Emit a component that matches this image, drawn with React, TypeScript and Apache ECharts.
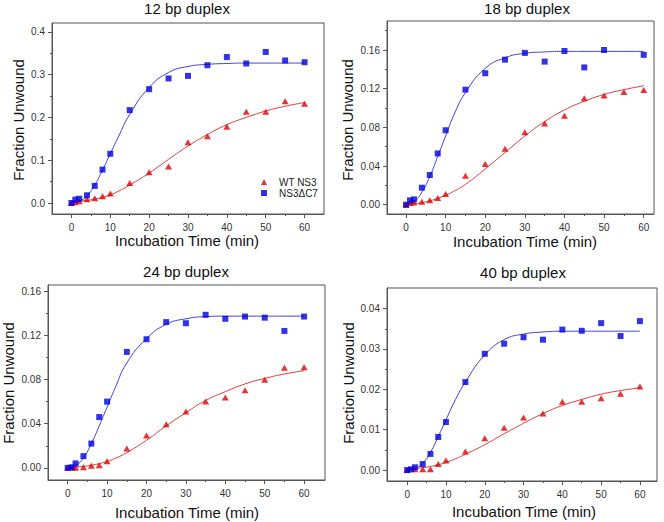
import React, { useEffect, useRef } from "react";
import * as echarts from "echarts";

// ---- data ----
const times = [0, 1, 2, 4, 6, 8, 10, 15, 20, 25, 30, 35, 40, 45, 50, 55, 60];
const fitTimes = [0, 2, 4, 6, 8, 10, 12, 15, 20, 25, 30, 35, 40, 45, 50, 55, 60];

const panelTitles = ["12 bp duplex", "18 bp duplex", "24 bp duplex", "40 bp duplex"];
const seriesNames = ["WT NS3", "NS3\u0394C7"];

const wt12 = [0, 0.002, 0.004, 0.009, 0.011, 0.016, 0.022, 0.047, 0.072, 0.085, 0.142, 0.156, 0.178, 0.213, 0.213, 0.238, 0.232];
const dc12 = [0, 0.008, 0.010, 0.018, 0.040, 0.078, 0.115, 0.217, 0.266, 0.291, 0.297, 0.322, 0.341, 0.326, 0.353, 0.333, 0.329];
const wt18 = [0, 0.0017, 0.0024, 0.003, 0.0045, 0.007, 0.011, 0.030, 0.042, 0.058, 0.075, 0.084, 0.092, 0.110, 0.113, 0.1166, 0.1186];
const dc18 = [0, 0.0045, 0.0055, 0.0176, 0.0307, 0.053, 0.077, 0.119, 0.136, 0.150, 0.157, 0.148, 0.159, 0.142, 0.160, null, 0.155];
const wt24 = [0, 0.0003, 0, 0.0006, 0.0018, 0.0024, 0.006, 0.0175, 0.0293, 0.0395, 0.051, 0.060, 0.0637, 0.0703, 0.0797, 0.0906, 0.0912];
const dc24 = [0, 0.0005, 0.004, 0.0106, 0.022, 0.046, 0.060, 0.105, 0.1165, 0.132, 0.131, 0.1386, 0.135, 0.137, 0.136, 0.124, 0.137];
const wt40 = [0, null, 0.0002, 0.0002, 0.0002, 0.0015, 0.0024, 0.0046, 0.0079, 0.0105, 0.013, 0.014, 0.0169, 0.0169, 0.0178, 0.0189, 0.0207];
const dc40 = [0, 0.0002, 0.0007, 0.0015, 0.004, 0.0082, 0.0119, 0.0218, 0.0288, 0.0313, 0.0329, 0.0323, 0.0348, 0.0345, 0.0364, 0.0332, 0.0369];

const wtFit12 = [0.002, 0.004, 0.006, 0.009, 0.013, 0.019, 0.027, 0.042, 0.07, 0.102, 0.133, 0.16, 0.183, 0.2, 0.215, 0.226, 0.235];
const dcFit12 = [0, 0.004, 0.017, 0.042, 0.077, 0.115, 0.153, 0.207, 0.27, 0.305, 0.319, 0.324, 0.326, 0.327, 0.327, 0.327, 0.327];
const wtFit18 = [0.0005, 0.001, 0.002, 0.004, 0.0065, 0.0098, 0.0138, 0.021, 0.037, 0.054, 0.071, 0.086, 0.098, 0.107, 0.114, 0.119, 0.123];
const dcFit18 = [0, 0.003, 0.013, 0.029, 0.050, 0.071, 0.092, 0.116, 0.141, 0.152, 0.1566, 0.158, 0.1586, 0.1586, 0.1586, 0.1586, 0.1586];
const wtFit24 = [0.0005, 0.0008, 0.0014, 0.0024, 0.0038, 0.0058, 0.0085, 0.0138, 0.025, 0.038, 0.050, 0.061, 0.069, 0.076, 0.081, 0.085, 0.088];
const dcFit24 = [0, 0.002, 0.009, 0.022, 0.038, 0.055, 0.072, 0.095, 0.117, 0.130, 0.135, 0.137, 0.1374, 0.1374, 0.1374, 0.1374, 0.1374];
const wtFit40 = [0.0003, 0.0004, 0.0006, 0.0009, 0.0013, 0.0019, 0.0026, 0.0039, 0.0063, 0.009, 0.0116, 0.014, 0.016, 0.0175, 0.0188, 0.0197, 0.0204];
const dcFit40 = [0, 0.0004, 0.0017, 0.0044, 0.0083, 0.0124, 0.0166, 0.0218, 0.0285, 0.0323, 0.0337, 0.0342, 0.0344, 0.0344, 0.0344, 0.0344, 0.0344];

const xMajorTicks = [0, 10, 20, 30, 40, 50, 60];
const xMinorTicks = [5, 15, 25, 35, 45, 55];
const yMajor12 = [0, 0.1, 0.2, 0.3, 0.4];
const yMinor12 = [0.05, 0.15, 0.25, 0.35];
const yMajor18 = [0, 0.04, 0.08, 0.12, 0.16];
const yMinor18 = [0.02, 0.06, 0.1, 0.14, 0.18];
const yMajor24 = [0, 0.04, 0.08, 0.12, 0.16];
const yMinor24 = [0.02, 0.06, 0.1, 0.14];
const yMajor40 = [0, 0.01, 0.02, 0.03, 0.04];
const yMinor40 = [0.005, 0.015, 0.025, 0.035];

// ---- layout & style ----
const FONT = "'Liberation Sans', Arial, sans-serif";
const RED = "#e00000";
const BLUE = "#0000e0";
const RED_LINE = "#e23c3c";
const BLUE_LINE = "#4040dc";
const AXIS = "#555";

const panels = [
  { wt: wt12, dc: dc12, wtFit: wtFit12, dcFit: dcFit12, yMajor: yMajor12, yMinor: yMinor12, dec: 1,
    grid: { left: 52, top: 23, width: 272, height: 191 }, xMin: -5, xMax: 65, yMin: -0.0257, yMax: 0.4206,
    title: [187, 8], yTitle: [18, 120], xTitle: [187, 240] },
  { wt: wt18, dc: dc18, wtFit: wtFit18, dcFit: dcFit18, yMajor: yMajor18, yMinor: yMinor18, dec: 2,
    grid: { left: 387, top: 21, width: 267, height: 193 }, xMin: -4.8, xMax: 62.6, yMin: -0.0096, yMax: 0.19,
    title: [527, 8], yTitle: [347, 120], xTitle: [525, 241] },
  { wt: wt24, dc: dc24, wtFit: wtFit24, dcFit: dcFit24, yMajor: yMajor24, yMinor: yMinor24, dec: 2,
    grid: { left: 48, top: 285, width: 277, height: 195 }, xMin: -5, xMax: 65.3, yMin: -0.011, yMax: 0.1656,
    title: [186, 271], yTitle: [8, 383], xTitle: [187, 512] },
  { wt: wt40, dc: dc40, wtFit: wtFit40, dcFit: dcFit40, yMajor: yMajor40, yMinor: yMinor40, dec: 2,
    grid: { left: 387, top: 288, width: 270, height: 193 }, xMin: -5.2, xMax: 64.4, yMin: -0.0027, yMax: 0.0451,
    title: [523, 272], yTitle: [348, 383], xTitle: [524, 511] },
];

const pairs = (xs: number[], ys: (number | null)[]) =>
  xs.map((x, i) => [x, ys[i]]).filter((p) => p[1] !== null);

function buildOption() {
  const grid: any[] = [];
  const xAxis: any[] = [];
  const yAxis: any[] = [];
  const series: any[] = [];
  const graphic: any[] = [];

  panels.forEach((p, i) => {
    grid.push({ ...p.grid, show: true, borderColor: AXIS, borderWidth: 1, backgroundColor: "#fff", containLabel: false });
    xAxis.push({
      type: "value", gridIndex: i, position: "bottom", min: p.xMin, max: p.xMax,
      axisLine: { show: true, onZero: false, lineStyle: { color: AXIS } },
      axisTick: { show: true, inside: false, length: 4, customValues: xMajorTicks, lineStyle: { color: AXIS } },
      axisLabel: { show: true, customValues: xMajorTicks, margin: 8, fontSize: 10, color: "#333", fontFamily: FONT },
      splitLine: { show: false },
    });
    xAxis.push({
      type: "value", gridIndex: i, position: "bottom", min: p.xMin, max: p.xMax,
      axisLine: { show: false, onZero: false },
      axisTick: { show: true, inside: false, length: 2, customValues: xMinorTicks, lineStyle: { color: AXIS } },
      axisLabel: { show: false, customValues: xMinorTicks },
      splitLine: { show: false },
    });
    yAxis.push({
      type: "value", gridIndex: i, position: "left", min: p.yMin, max: p.yMax,
      axisLine: { show: true, onZero: false, lineStyle: { color: AXIS } },
      axisTick: { show: true, inside: false, length: 4, customValues: p.yMajor, lineStyle: { color: AXIS } },
      axisLabel: {
        show: true, customValues: p.yMajor, margin: 7, fontSize: 10, color: "#333", fontFamily: FONT,
        formatter: (v: number) => v.toFixed(p.dec),
      },
      splitLine: { show: false },
    });
    yAxis.push({
      type: "value", gridIndex: i, position: "left", min: p.yMin, max: p.yMax,
      axisLine: { show: false, onZero: false },
      axisTick: { show: true, inside: false, length: 2, customValues: p.yMinor, lineStyle: { color: AXIS } },
      axisLabel: { show: false, customValues: p.yMinor },
      splitLine: { show: false },
    });

    const xi = i * 2;
    const yi = i * 2;
    series.push({
      type: "line", name: "fit-wt-" + i, xAxisIndex: xi, yAxisIndex: yi,
      data: pairs(fitTimes, p.wtFit), showSymbol: false, smooth: 0.5,
      lineStyle: { color: RED_LINE, width: 1 }, silent: true, z: 2,
    });
    series.push({
      type: "line", name: "fit-dc-" + i, xAxisIndex: xi, yAxisIndex: yi,
      data: pairs(fitTimes, p.dcFit), showSymbol: false, smooth: 0.5,
      lineStyle: { color: BLUE_LINE, width: 1 }, silent: true, z: 2,
    });
    series.push({
      type: "scatter", name: seriesNames[0], xAxisIndex: xi, yAxisIndex: yi,
      data: pairs(times, p.wt), symbol: "triangle", symbolSize: [7, 6],
      itemStyle: { color: RED }, z: 3,
    });
    series.push({
      type: "scatter", name: seriesNames[1], xAxisIndex: xi, yAxisIndex: yi,
      data: pairs(times, p.dc), symbol: "rect", symbolSize: 6,
      itemStyle: { color: BLUE }, z: 4,
    });

    const txt = { fontSize: 15, fontWeight: "normal", fontFamily: FONT, fill: "#111", align: "center", verticalAlign: "middle" };
    graphic.push({ type: "text", x: p.title[0], y: p.title[1], style: { ...txt, text: panelTitles[i] } });
    graphic.push({ type: "text", x: p.xTitle[0], y: p.xTitle[1], style: { ...txt, text: "Incubation Time (min)" } });
    graphic.push({
      type: "text", x: p.yTitle[0], y: p.yTitle[1], rotation: Math.PI / 2,
      style: { ...txt, text: "Fraction Unwound" },
    });
  });

  return {
    animation: false,
    backgroundColor: "#fff",
    grid, xAxis, yAxis, series, graphic,
    legend: {
      show: true, orient: "vertical", left: 256, top: 172, itemWidth: 6, itemHeight: 6, itemGap: 1,
      data: [
        { name: seriesNames[0], icon: "triangle" },
        { name: seriesNames[1], icon: "rect" },
      ],
      textStyle: { fontSize: 10, color: "#222", fontFamily: FONT, padding: [0, 0, 0, 7] },
      selectedMode: false,
    },
  };
}

export default function App() {
  const ref = useRef<HTMLDivElement>(null);
  useEffect(() => {
    if (!ref.current) return;
    const chart = echarts.init(ref.current, null, { renderer: "svg" });
    chart.setOption(buildOption() as any);
    return () => chart.dispose();
  }, []);
  return (
    <div
      ref={ref}
      style={{ position: "absolute", left: 0, top: 0, width: 664, height: 522, background: "#fff" }}
    />
  );
}
